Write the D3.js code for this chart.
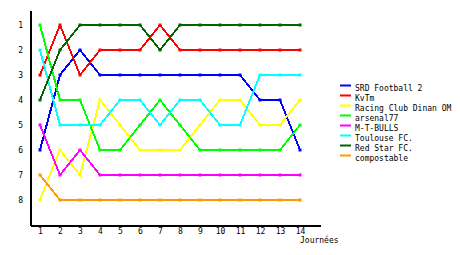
<!DOCTYPE html>
<html><head><meta charset="utf-8">
<script src="https://cdn.jsdelivr.net/npm/d3@7"></script>
<style>
html,body{margin:0;padding:0;background:#fff;}
svg{display:block;}
text{font-family:"DejaVu Sans Mono",monospace;font-size:8px;fill:#000;}
</style></head>
<body>
<svg id="c" width="460" height="255"></svg>
<script>
const days = [1,2,3,4,5,6,7,8,9,10,11,12,13,14];
const rankTicks = [1,2,3,4,5,6,7,8];
const xTitle = "Journées";
const teams = ["SRD Football 2","KvTm","Racing Club Dinan OM","arsenal77","M-T-BULLS","Toulouse FC.","Red Star FC.","compostable"];
const colors = ["#0000ff","#ff0000","#ffff00","#00ff00","#ff00ff","#00ffff","#006600","#ff9900"];
const srd        = [6,3,2,3,3,3,3,3,3,3,3,4,4,6];
const kvtm       = [3,1,3,2,2,2,1,2,2,2,2,2,2,2];
const racing     = [8,6,7,4,5,6,6,6,5,4,4,5,5,4];
const arsenal    = [1,4,4,6,6,5,4,5,6,6,6,6,6,5];
const mtbulls    = [5,7,6,7,7,7,7,7,7,7,7,7,7,7];
const toulouse   = [2,5,5,5,4,4,5,4,4,5,5,3,3,3];
const redstar    = [4,2,1,1,1,1,2,1,1,1,1,1,1,1];
const compostable= [7,8,8,8,8,8,8,8,8,8,8,8,8,8];
const series = [srd,kvtm,racing,arsenal,mtbulls,toulouse,redstar,compostable];

const svg = d3.select("#c");
const x = d3.scaleLinear().domain([0.5,15]).range([30,320]);
const y = d3.scaleLinear().domain([0.4,9]).range([10,225]);

// axes
const gx = svg.append("g").attr("transform","translate(0,225)")
  .call(d3.axisBottom(x).tickValues(days).tickSize(0).tickSizeOuter(0).tickPadding(3).tickFormat(d3.format("d")));
const gy = svg.append("g").attr("transform","translate(30,0)")
  .call(d3.axisLeft(y).tickValues(rankTicks).tickSize(0).tickSizeOuter(0).tickPadding(7).tickFormat(d3.format("d")));
[gx,gy].forEach(g=>{
  g.select(".domain").attr("stroke","#000").attr("stroke-width",2).attr("shape-rendering","crispEdges");
  g.selectAll("text").attr("font-family","DejaVu Sans Mono").attr("font-size",8).attr("fill","#000");
});
svg.append("text").attr("x",300).attr("y",243).text(xTitle);

// lines
const line = d3.line().x((d,i)=>x(days[i])).y(d=>y(d));
series.forEach((s,k)=>{
  const g = svg.append("g");
  g.append("path").datum(s).attr("d",line).attr("fill","none")
    .attr("stroke",colors[k]).attr("stroke-width",2).attr("shape-rendering","crispEdges");
  g.selectAll("rect").data(s).join("rect")
    .attr("x",(d,i)=>x(days[i])-1.5).attr("y",d=>y(d)-1.5)
    .attr("width",3).attr("height",3).attr("fill",colors[k]);
});

// legend
const lg = svg.append("g");
teams.forEach((t,k)=>{
  lg.append("rect").attr("x",340).attr("y",84.5+k*10).attr("width",11).attr("height",2).attr("fill",colors[k]);
  lg.append("text").attr("x",355).attr("y",91+k*10).text(t);
});
</script>
</body></html>
